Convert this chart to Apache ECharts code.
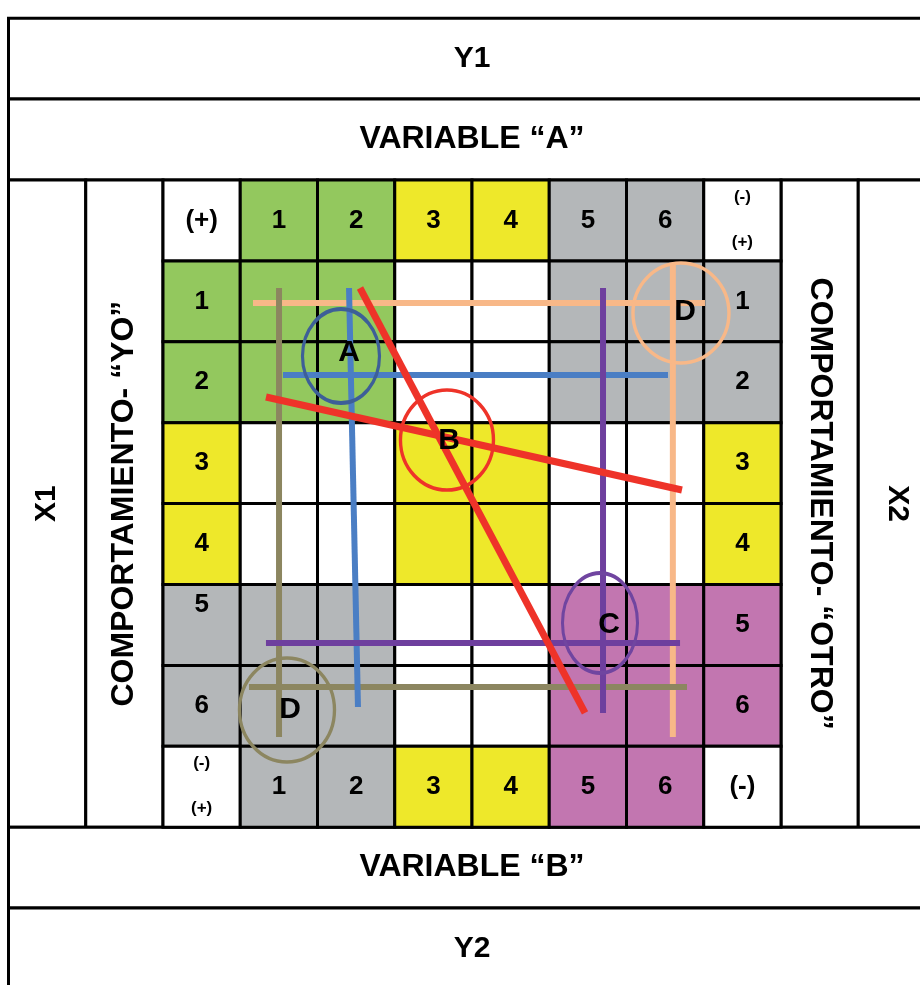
<!DOCTYPE html>
<html>
<head>
<meta charset="utf-8">
<title>Variable A / Variable B</title>
<script src="https://cdn.jsdelivr.net/npm/echarts@6/dist/echarts.min.js"></script>
<style>
  html, body { margin: 0; padding: 0; background: #fff; }
  #chart { width: 920px; height: 985px; }
</style>
</head>
<body>
<div id="chart"></div>
<script>
// ----- data -----
// cell fills: w white, g green, y yellow, s gray, p purple (8x8 block)
const cellFill = [
  "wggyyssw",
  "gggwwsss",
  "gggwwsss",
  "ywwyywwy",
  "ywwyywwy",
  "ssswwppp",
  "ssswwppp",
  "wssyyppw",
];
const topLabels = ["(+)", "1", "2", "3", "4", "5", "6", "(-)/(+)"];
const bottomLabels = ["(-)/(+)", "1", "2", "3", "4", "5", "6", "(-)"];
const leftLabels = ["1", "2", "3", "4", "5", "6"];
const rightLabels = ["1", "2", "3", "4", "5", "6"];

// frame bands: [x0, y0, x1, y1, text, rotation in degrees]
const bands = [
  [-2, -2, 10, -1, "Y1", 0],
  [-2, -1, 10, 0, "VARIABLE “A”", 0],
  [-2, 0, -1, 8, "X1", 90],
  [-1, 0, 0, 8, "COMPORTAMIENTO- “YO”", 90],
  [8, 0, 9, 8, "COMPORTAMIENTO- “OTRO”", -90],
  [9, 0, 10, 8, "X2", -90],
  [-2, 8, 10, 9, "VARIABLE “B”", 0],
  [-2, 9, 10, 10, "Y2", 0],
];

// overlay strokes, in cell units: [[x0, y0], [x1, y1]]
const peachH = [[1.165, 1.52], [7.016, 1.52]];
const peachV = [[6.6, 1.05], [6.6, 6.885]];
const blueV = [[2.408, 1.335], [2.524, 6.514]];
const blueH = [[1.553, 2.41], [6.537, 2.41]];
const redA = [[2.55, 1.335], [5.463, 6.588]];
const redB = [[1.333, 2.682], [6.718, 3.832]];
const purpleV = [[5.696, 1.335], [5.696, 6.588]];
const purpleH = [[1.333, 5.723], [6.693, 5.723]];
const oliveV = [[1.502, 1.335], [1.502, 6.885]];
const oliveH = [[1.113, 6.267], [6.783, 6.267]];

// ring centres and letters
const ringNames = ["A", "B", "C", "D1", "D2"];
const ringCenters = [[2.304, 2.176], [3.676, 3.214], [5.657, 5.476], [6.705, 1.644], [1.605, 6.551]];
const letterText = ["A", "B", "C", "D", "D"];
const letterPos = [[2.408, 2.138], [3.702, 3.226], [5.773, 5.5], [6.757, 1.632], [1.644, 6.551]];

// ----- styles -----
const fills = { w: "#ffffff", g: "#93c85e", y: "#eee82a", s: "#b4b7b9", p: "#c276b0" };
const ringStyle = {
  A: { size: [77, 94], color: "#3d5f98" },
  B: { size: [93, 100], color: "#ee3329" },
  C: { size: [75, 100], color: "#7045a0" },
  D1: { size: [96, 100], color: "#f8b888" },
  D2: { size: [95, 104], color: "#8c8660" },
};
const FONT = "Liberation Sans, Arial, sans-serif";

// build cell list: [col, row, fill, label]
const cells = [];
cellFill.forEach((rowStr, r) => {
  rowStr.split("").forEach((f, c) => {
    let label = "";
    if (r === 0) label = topLabels[c];
    else if (r === 7) label = bottomLabels[c];
    else if (c === 0) label = leftLabels[r - 1];
    else if (c === 7) label = rightLabels[r - 1];
    cells.push([c, r, f, label]);
  });
});

const chart = echarts.init(document.getElementById("chart"));

function lineSeries(points, color, width) {
  return {
    type: "line",
    data: points,
    symbol: "none",
    silent: true,
    z: 5,
    lineStyle: { color: color, width: width, cap: "butt", opacity: 1 },
  };
}

// one cell = 77.25 x 80.9 px, block starts at (163, 180)
const option = {
  backgroundColor: "#ffffff",
  animation: false,
  grid: { left: 8.5, top: 18.2, right: 0, bottom: 0 },
  xAxis: { type: "value", min: -2, max: -2 + 911.5 / 77.25, show: false },
  yAxis: { type: "value", min: -2, max: -2 + 966.8 / 80.9, inverse: true, show: false },
  series: [
    {
      // outer frame bands
      type: "custom",
      data: bands,
      z: 1,
      silent: true,
      renderItem: (params, api) => {
        const b = bands[params.dataIndex];
        const p0 = api.coord([b[0], b[1]]);
        const p1 = api.coord([b[2], b[3]]);
        const big = b[4].length > 3;
        return {
          type: "group",
          children: [
            {
              type: "rect",
              shape: { x: p0[0], y: p0[1], width: p1[0] - p0[0], height: p1[1] - p0[1] },
              style: { fill: "#fff", stroke: "#000", lineWidth: 3 },
            },
            {
              type: "text",
              x: (p0[0] + p1[0]) / 2,
              y: (p0[1] + p1[1]) / 2,
              rotation: (b[5] * Math.PI) / 180,
              style: {
                text: b[4],
                fill: "#000",
                font: "bold " + (big ? 32 : 30) + "px " + FONT,
                align: "center",
                verticalAlign: "middle",
              },
            },
          ],
        };
      },
    },
    {
      // 8x8 cell block
      type: "custom",
      data: cells,
      z: 2,
      silent: true,
      renderItem: (params, api) => {
        const d = cells[params.dataIndex];
        const p0 = api.coord([d[0], d[1]]);
        const p1 = api.coord([d[0] + 1, d[1] + 1]);
        const cx = (p0[0] + p1[0]) / 2;
        const cy = (p0[1] + p1[1]) / 2;
        const children = [
          {
            type: "rect",
            shape: { x: p0[0], y: p0[1], width: p1[0] - p0[0], height: p1[1] - p0[1] },
            style: { fill: fills[d[2]], stroke: "#000", lineWidth: 3 },
          },
        ];
        if (d[3].indexOf("/") >= 0) {
          d[3].split("/").forEach((t, i) => {
            children.push({
              type: "text",
              x: cx,
              y: cy + (i === 0 ? -23 : 22),
              style: { text: t, fill: "#000", font: "bold 17px " + FONT, align: "center", verticalAlign: "middle" },
            });
          });
        } else if (d[3]) {
          const lift = d[0] === 0 && d[3] === "5" ? -20 : 0;
          children.push({
            type: "text",
            x: cx,
            y: cy + lift,
            style: { text: d[3], fill: "#000", font: "bold 26px " + FONT, align: "center", verticalAlign: "middle" },
          });
        }
        return { type: "group", children: children };
      },
    },
    lineSeries(peachH, "#f8b888", 6),
    lineSeries(peachV, "#f8b888", 6),
    lineSeries(oliveV, "#8c8660", 6),
    lineSeries(oliveH, "#8c8660", 6),
    lineSeries(blueV, "#4a7ec4", 6),
    lineSeries(blueH, "#4a7ec4", 6),
    lineSeries(purpleV, "#6e3f9e", 6),
    lineSeries(purpleH, "#6e3f9e", 6),
    lineSeries(redA, "#ee3329", 7),
    lineSeries(redB, "#ee3329", 7),
    {
      // rings
      type: "scatter",
      z: 6,
      silent: true,
      symbol: "circle",
      data: ringCenters.map((c, i) => ({
        value: c,
        symbolSize: ringStyle[ringNames[i]].size,
        itemStyle: {
          color: "rgba(0,0,0,0)",
          borderColor: ringStyle[ringNames[i]].color,
          borderWidth: 3.5,
          opacity: 1,
        },
      })),
    },
    {
      // letters
      type: "custom",
      z: 7,
      silent: true,
      data: letterPos,
      renderItem: (params, api) => {
        const p = api.coord(letterPos[params.dataIndex]);
        return {
          type: "text",
          x: p[0],
          y: p[1],
          style: {
            text: letterText[params.dataIndex],
            fill: "#000",
            font: "bold 30px " + FONT,
            align: "center",
            verticalAlign: "middle",
          },
        };
      },
    },
  ],
};

chart.setOption(option);
</script>
</body>
</html>
